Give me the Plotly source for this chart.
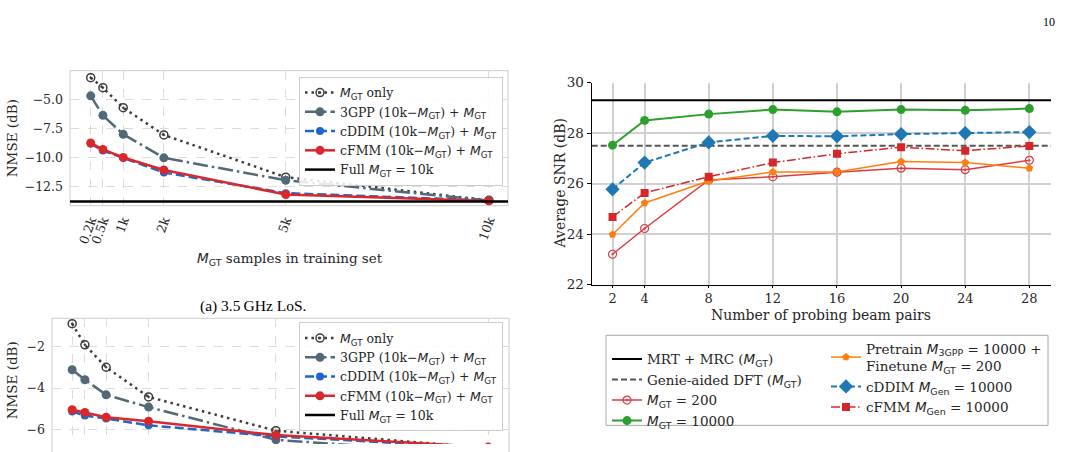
import plotly.graph_objects as go

W, H = 1074, 452

# ---------------- data ----------------
m_gt = [200, 500, 1000, 2000, 5000, 10000]
m_gt_labels = ["0.2k", "0.5k", "1k", "2k", "5k", "10k"]

# (a) 3.5 GHz LoS
a_gt_only = [-3.1, -3.97, -5.7, -8.05, -11.7, -13.7]
a_3gpp = [-4.67, -6.36, -8.0, -10.03, -11.97, -13.72]
a_cddim = [-8.8, -9.4, -10.03, -11.3, -13.08, -13.72]
a_cfmm = [-8.75, -9.3, -10.0, -11.08, -13.2, -13.75]
a_full = -13.8

# (b) second scenario (partially visible)
b_gt_only = [-0.9, -1.92, -3.0, -4.43, -6.06, -6.9]
b_3gpp = [-3.12, -3.6, -4.33, -4.92, -6.5, -7.2]
b_cddim = [-5.13, -5.33, -5.47, -5.8, -6.33, -6.9]
b_cfmm = [-5.05, -5.18, -5.41, -5.6, -6.27, -6.85]
b_full = -7.3

# SNR vs probing beam pairs
beams = [2, 4, 8, 12, 16, 20, 24, 28]
snr_mrt = 29.3
snr_genie = 27.5
snr_gt200 = [23.2, 24.22, 26.14, 26.27, 26.45, 26.61, 26.55, 26.92]
snr_gt10000 = [27.52, 28.5, 28.75, 28.93, 28.84, 28.93, 28.9, 28.97]
snr_pretrain = [23.98, 25.23, 26.1, 26.46, 26.46, 26.87, 26.83, 26.61]
snr_cddim = [25.77, 26.83, 27.63, 27.89, 27.87, 27.96, 28.0, 28.04]
snr_cfmm = [24.68, 25.63, 26.27, 26.83, 27.18, 27.44, 27.3, 27.49]

# ---------------- helpers ----------------
def px(x):
    return x / W

def py(y):
    return 1 - y / H

MS = '<span style="font-family:DejaVu Sans"><i>M</i></span>'
def sub(s):
    return MS + '<sub><span style="font-family:DejaVu Sans">' + s + '</span></sub>'

MGT = sub("GT")
SERIF = "DejaVu Serif"
TXT = "#262626"

C_GT = "#3d3d3d"
C_3GPP = "#526a78"
C_CDDIM = "#1f66cc"
C_CFMM = "#d9282c"

fig = go.Figure()

TL_XR = [-310, 10470]
BL_XR = [-275, 10490]

def add_nmse(xax, yax, leg, gt_only, g3, cd, cf, full, xr):
    fig.add_trace(go.Scatter(x=m_gt, y=gt_only, mode="lines+markers", name=MGT + " only",
                             line=dict(color=C_GT, width=2.5, dash="2.5px,4px"),
                             marker=dict(symbol="circle-open-dot", size=8, color=C_GT, line=dict(width=1.5, color=C_GT)),
                             xaxis=xax, yaxis=yax, legend=leg))
    fig.add_trace(go.Scatter(x=m_gt, y=g3, mode="lines+markers", name="3GPP (10k\u2212" + MGT + ") + " + MGT,
                             line=dict(color=C_3GPP, width=2.5, dash="15px,4px,2.5px,4px"),
                             marker=dict(symbol="circle", size=9, color=C_3GPP),
                             xaxis=xax, yaxis=yax, legend=leg))
    fig.add_trace(go.Scatter(x=m_gt, y=cd, mode="lines+markers", name="cDDIM (10k\u2212" + MGT + ") + " + MGT,
                             line=dict(color=C_CDDIM, width=2.5, dash="9px,4px"),
                             marker=dict(symbol="circle", size=8, color=C_CDDIM),
                             xaxis=xax, yaxis=yax, legend=leg))
    fig.add_trace(go.Scatter(x=m_gt, y=cf, mode="lines+markers", name="cFMM (10k\u2212" + MGT + ") + " + MGT,
                             line=dict(color=C_CFMM, width=2.5),
                             marker=dict(symbol="circle", size=9, color=C_CFMM),
                             xaxis=xax, yaxis=yax, legend=leg))
    fig.add_trace(go.Scatter(x=xr, y=[full, full], mode="lines", name="Full " + MGT + " = 10k",
                             line=dict(color="black", width=2.5),
                             xaxis=xax, yaxis=yax, legend=leg))

add_nmse("x", "y", "legend", a_gt_only, a_3gpp, a_cddim, a_cfmm, a_full, TL_XR)
add_nmse("x2", "y2", "legend2", b_gt_only, b_3gpp, b_cddim, b_cfmm, b_full, BL_XR)

# right panel
R_XR = [0.7, 29.35]
fig.add_trace(go.Scatter(x=R_XR, y=[snr_mrt, snr_mrt], mode="lines", name="MRT + MRC (" + MGT + ")",
                         line=dict(color="black", width=2), xaxis="x3", yaxis="y3", legend="legend3"))
fig.add_trace(go.Scatter(x=R_XR, y=[snr_genie, snr_genie], mode="lines", name="Genie-aided DFT (" + MGT + ")",
                         line=dict(color="#555555", width=2, dash="6px,3px"), xaxis="x3", yaxis="y3", legend="legend3"))
fig.add_trace(go.Scatter(x=beams, y=snr_gt200, mode="lines+markers", name=MGT + " = 200",
                         line=dict(color="#dc3b40", width=1.5),
                         marker=dict(symbol="circle-open-dot", size=8, color="#dc3b40", line=dict(width=1.2, color="#dc3b40")),
                         xaxis="x3", yaxis="y3", legend="legend3"))
fig.add_trace(go.Scatter(x=beams, y=snr_gt10000, mode="lines+markers", name=MGT + " = 10000",
                         line=dict(color="#2ca02c", width=2),
                         marker=dict(symbol="circle", size=9, color="#2ca02c"),
                         xaxis="x3", yaxis="y3", legend="legend3"))
fig.add_trace(go.Scatter(x=beams, y=snr_pretrain, mode="lines+markers",
                         name="Pretrain " + sub("3GPP") + " = 10000 +<br>Finetune " + MGT + " = 200",
                         line=dict(color="#ff7f0e", width=1.5),
                         marker=dict(symbol="pentagon", size=8, color="#ff7f0e"),
                         xaxis="x3", yaxis="y3", legend="legend4"))
fig.add_trace(go.Scatter(x=beams, y=snr_cddim, mode="lines+markers", name="cDDIM " + sub("Gen") + " = 10000",
                         line=dict(color="#1f77b4", width=2, dash="6px,3px"),
                         marker=dict(symbol="diamond", size=11, color="#1f77b4"),
                         xaxis="x3", yaxis="y3", legend="legend4"))
fig.add_trace(go.Scatter(x=beams, y=snr_cfmm, mode="lines+markers", name="cFMM " + sub("Gen") + " = 10000",
                         line=dict(color="#d62728", width=1.5, dash="9px,2.5px,1.5px,2.5px"),
                         marker=dict(symbol="square", size=8, color="#d62728"),
                         xaxis="x3", yaxis="y3", legend="legend4"))

GRID_L = "#dcdcdc"
tick_font = dict(family=SERIF, size=12.5, color=TXT)

TL_X = [px(70), px(508)]
TL_Y = [py(205), py(65)]
BL_X = [px(52), px(509)]
BL_Y = [0, py(321.7)]
R_X = [px(591.7), px(1051)]
R_Y = [py(286.7), py(77.3)]

def ann(text, x, y, size=13.5, family=SERIF, color=TXT, angle=0, xa="center", ya="middle"):
    return dict(text=text, x=px(x), y=py(y), xref="paper", yref="paper", textangle=angle,
                xanchor=xa, yanchor=ya, showarrow=False,
                font=dict(family=family, size=size, color=color))

leg_font = dict(family=SERIF, size=12.5, color=TXT)

fig.update_layout(
    width=W, height=H, margin=dict(l=0, r=0, t=0, b=0),
    paper_bgcolor="white", plot_bgcolor="white",
    font=dict(family=SERIF, color=TXT),
    xaxis=dict(domain=TL_X, range=TL_XR, tickvals=m_gt, ticktext=m_gt_labels, tickangle=-70,
               showgrid=True, gridcolor=GRID_L, griddash="dash", gridwidth=1, zeroline=False,
               showline=False, ticks="", tickfont=tick_font, anchor="y", ticklabelstandoff=4),
    yaxis=dict(domain=TL_Y, range=[-14.17, -2.5], tickvals=[-5, -7.5, -10, -12.5],
               ticktext=["\u22125.0", "\u22127.5", "\u221210.0", "\u221212.5"],
               showgrid=True, gridcolor=GRID_L, griddash="dash", gridwidth=1, zeroline=False,
               showline=False, ticks="", tickfont=tick_font, anchor="x", ticklabelstandoff=6),
    xaxis2=dict(domain=BL_X, range=BL_XR, tickvals=m_gt, showticklabels=False,
                showgrid=True, gridcolor=GRID_L, griddash="dash", gridwidth=1, zeroline=False,
                showline=False, ticks="", anchor="y2"),
    yaxis2=dict(domain=BL_Y, range=[-6.70, -0.64], tickvals=[-2, -4, -6],
                ticktext=["\u22122", "\u22124", "\u22126"],
                showgrid=True, gridcolor=GRID_L, griddash="dash", gridwidth=1, zeroline=False,
                showline=False, ticks="", tickfont=tick_font, anchor="x2", ticklabelstandoff=6),
    xaxis3=dict(domain=R_X, range=R_XR, tickvals=beams,
                showgrid=True, gridcolor="#d0d0d0", gridwidth=1.6, zeroline=False,
                showline=True, linecolor="black", linewidth=1.2, ticks="outside", ticklen=2,
                tickcolor="black", tickfont=dict(family=SERIF, size=13, color=TXT), anchor="y3"),
    yaxis3=dict(domain=R_Y, range=[22, 30], tickvals=[22, 24, 26, 28, 30],
                showgrid=True, gridcolor="#d0d0d0", gridwidth=1.6, zeroline=False,
                showline=True, linecolor="black", linewidth=1.2, ticks="outside", ticklen=4,
                tickcolor="black", tickfont=dict(family=SERIF, size=13.5, color=TXT), anchor="x3"),
    legend=dict(x=px(503), xanchor="right", y=py(71.5), yanchor="top",
                bordercolor="#cccccc", borderwidth=1, bgcolor="rgba(255,255,255,0.85)",
                font=leg_font, tracegroupgap=0),
    legend2=dict(x=px(503), xanchor="right", y=py(326), yanchor="top",
                 bordercolor="#cccccc", borderwidth=1, bgcolor="rgba(255,255,255,0.85)",
                 font=leg_font, tracegroupgap=0),
    legend3=dict(x=px(607), xanchor="left", y=py(348), yanchor="top",
                 borderwidth=0, bgcolor="rgba(0,0,0,0)",
                 font=dict(family=SERIF, size=13.5, color=TXT), tracegroupgap=0),
    legend4=dict(x=px(826), xanchor="left", y=py(337), yanchor="top",
                 borderwidth=0, bgcolor="rgba(0,0,0,0)",
                 font=dict(family=SERIF, size=13.5, color=TXT), tracegroupgap=0),
    shapes=[
        dict(type="rect", xref="paper", yref="paper", x0=TL_X[0], x1=TL_X[1], y0=TL_Y[0], y1=TL_Y[1],
             line=dict(color="#cccccc", width=1), layer="below"),
        dict(type="rect", xref="paper", yref="paper", x0=BL_X[0], x1=BL_X[1], y0=-0.2, y1=BL_Y[1],
             line=dict(color="#cccccc", width=1), layer="below"),
        dict(type="rect", xref="paper", yref="paper", x0=px(606), x1=px(1048), y0=py(432.7), y1=py(339.3),
             line=dict(color="#a8a8a8", width=1), layer="below"),
    ],
    annotations=[
        ann("NMSE (dB)", 12, 135, angle=-90),
        ann(MGT + " samples in training set", 290, 260),
        ann("(a) 3.5\u2009GHz LoS.", 253, 309, size=15.5, family="Liberation Serif", color="black"),
        ann("NMSE (dB)", 12, 386, angle=-90),
        ann("Average SNR (dB)", 560, 182, size=14, angle=-90),
        ann("Number of probing beam pairs", 821, 318, size=14),
        ann("10", 1049, 14, size=12, family="Liberation Serif", color="black"),
    ],
)

fig.write_html("out.html")
